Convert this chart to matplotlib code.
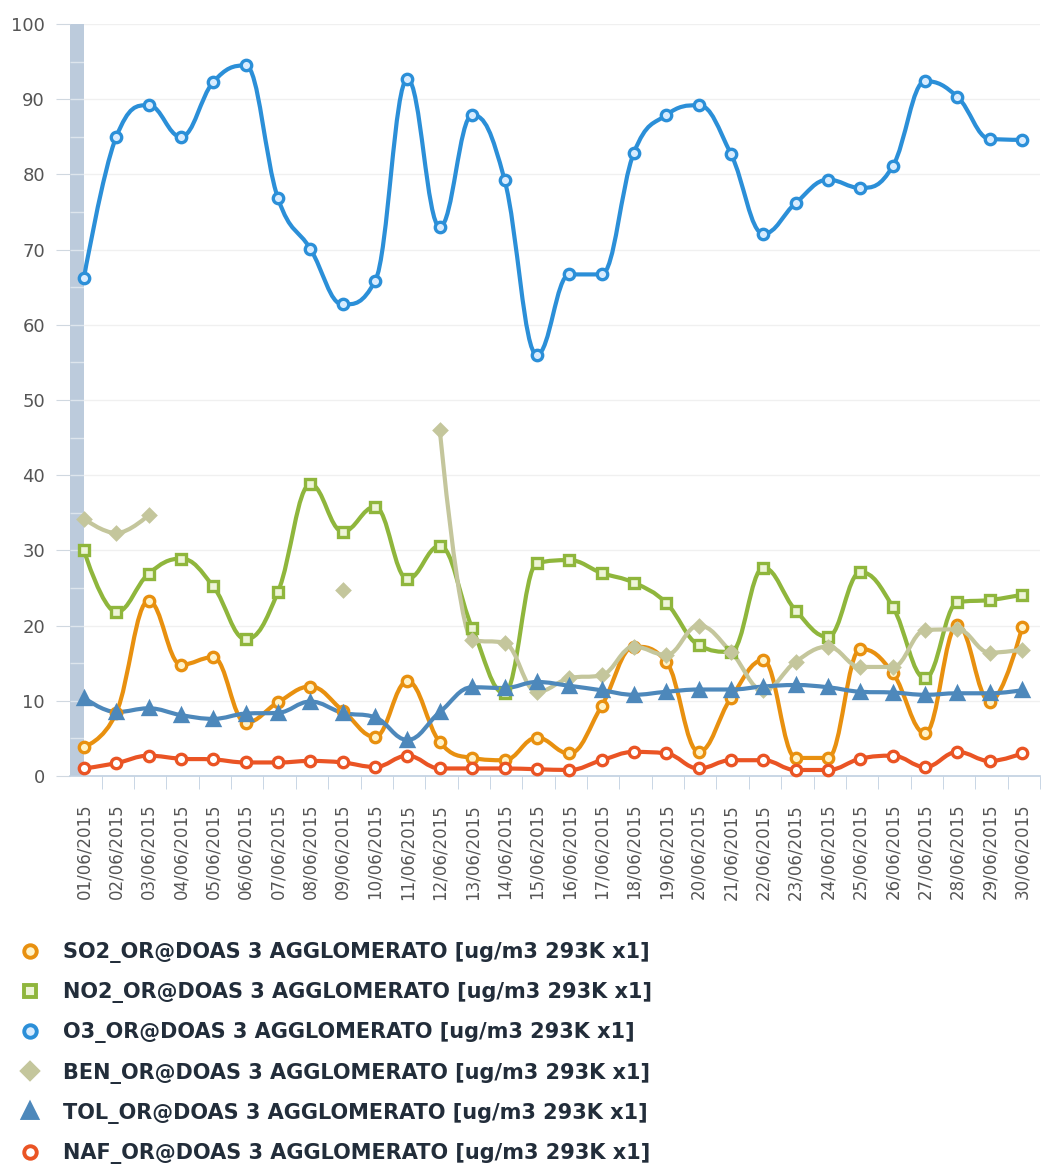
import numpy as np
import matplotlib
matplotlib.use("Agg")
import matplotlib.pyplot as plt
from matplotlib.path import Path
from matplotlib.patches import PathPatch
from matplotlib.lines import Line2D

# Dati (giugno 2015, DOAS 3 Agglomerato)
giorni = ["01/06/2015", "02/06/2015", "03/06/2015", "04/06/2015", "05/06/2015",
          "06/06/2015", "07/06/2015", "08/06/2015", "09/06/2015", "10/06/2015",
          "11/06/2015", "12/06/2015", "13/06/2015", "14/06/2015", "15/06/2015",
          "16/06/2015", "17/06/2015", "18/06/2015", "19/06/2015", "20/06/2015",
          "21/06/2015", "22/06/2015", "23/06/2015", "24/06/2015", "25/06/2015",
          "26/06/2015", "27/06/2015", "28/06/2015", "29/06/2015", "30/06/2015"]

so2 = [3.9, 8.4, 23.3, 14.8, 15.8, 7.1, 9.8, 11.9, 8.7, 5.2, 12.6, 4.5, 2.4, 2.1, 5.1,
       3.0, 9.3, 17.2, 15.2, 3.2, 10.4, 15.4, 2.4, 2.4, 16.9, 13.7, 5.7, 20.1, 9.9, 19.8]
no2 = [30.0, 21.8, 26.9, 28.9, 25.2, 18.2, 24.5, 38.8, 32.5, 35.8, 26.2, 30.6, 19.7, 11.0, 28.3,
       28.7, 27.0, 25.7, 23.0, 17.4, 16.5, 27.7, 22.0, 18.5, 27.1, 22.5, 13.0, 23.1, 23.4, 24.1]
o3 = [66.2, 85.0, 89.2, 85.0, 92.3, 94.5, 76.8, 70.1, 62.7, 65.8, 92.7, 73.0, 87.9, 79.3, 56.0,
      66.7, 66.7, 82.9, 87.9, 89.2, 82.7, 72.1, 76.2, 79.3, 78.2, 81.1, 92.4, 90.3, 84.7, 84.6]
ben = [34.2, 32.3, 34.7, None, None, None, None, None, 24.7, None, None, 46.0, 18.1, 17.7, 11.2,
       13.0, 13.4, 17.2, 16.1, 20.0, 16.5, 11.4, 15.2, 17.2, 14.5, 14.5, 19.4, 19.5, 16.4, 16.8]
tol = [10.4, 8.5, 9.0, 8.1, 7.6, 8.3, 8.4, 9.9, 8.4, 7.8, 4.8, 8.5, 11.8, 11.7, 12.5,
       12.0, 11.4, 10.8, 11.2, 11.5, 11.5, 11.9, 12.1, 11.8, 11.2, 11.1, 10.8, 11.0, 11.0, 11.4]
naf = [1.0, 1.7, 2.7, 2.3, 2.2, 1.8, 1.8, 2.0, 1.8, 1.2, 2.7, 1.0, 1.0, 1.0, 0.9,
       0.8, 2.1, 3.2, 3.0, 1.0, 2.1, 2.1, 0.8, 0.8, 2.3, 2.7, 1.2, 3.2, 2.0, 3.0]

etichetta = "_OR@DOAS 3 AGGLOMERATO [ug/m3 293K x1]"

# nome, valori, colore, marker, riempimento marker, dimensione
serie = [
    ("SO2", so2, "#e8900f", "o", "#fff3c8", 7.5),
    ("NO2", no2, "#8fb63c", "s", "#eef5d8", 7.5),
    ("O3", o3, "#2b8fd8", "o", "#d8ecff", 7.5),
    ("BEN", ben, "#c4c69c", "D", "#c4c69c", 6.5),
    ("TOL", tol, "#4d88bb", "^", "#4d88bb", 8),
    ("NAF", naf, "#ea5424", "o", "#ffffff", 7.5),
]


def spline(xs, ys, smoothing=1.5):
    # curva tipo "spline" di Highcharts: bezier cubiche tra i punti
    verts = [(xs[0], ys[0])]
    codes = [Path.MOVETO]
    prec = (xs[0], ys[0])
    n = len(xs)
    for i in range(1, n):
        x, y = xs[i], ys[i]
        lx, ly, rx, ry = x, y, x, y
        if i < n - 1:
            d = smoothing + 1
            lx = (smoothing * x + xs[i - 1]) / d
            ly = (smoothing * y + ys[i - 1]) / d
            rx = (smoothing * x + xs[i + 1]) / d
            ry = (smoothing * y + ys[i + 1]) / d
            corr = (ry - ly) * (rx - x) / (rx - lx) + y - ry
            ly += corr
            ry += corr
            py, ny = ys[i - 1], ys[i + 1]
            if ly > py and ly > y:
                ly = max(py, y); ry = 2 * y - ly
            elif ly < py and ly < y:
                ly = min(py, y); ry = 2 * y - ly
            if ry > ny and ry > y:
                ry = max(ny, y); ly = 2 * y - ry
            elif ry < ny and ry < y:
                ry = min(ny, y); ly = 2 * y - ry
        verts += [prec, (lx, ly), (x, y)]
        codes += [Path.CURVE4] * 3
        prec = (rx, ry)
    return Path(verts, codes)


fig = plt.figure(figsize=(10.47, 11.64), dpi=100)
ax = fig.add_axes([70 / 1047, 1 - 776 / 1164, 970 / 1047, 752 / 1164])

x = np.arange(len(giorni))
xmin, xmax = -0.43, 29.12
ax.set_xlim(xmin, xmax)
ax.set_ylim(0, 100)

# barra laterale
ax.axvspan(xmin, 0, color="#bccbdc", zorder=0.5, lw=0)
ax.hlines(np.arange(5, 100, 5), xmin, 0, colors="white", lw=1, alpha=0.5, zorder=0.6)

# griglia
for v in range(10, 101, 10):
    ax.axhline(v, color="#f0f0f0", lw=1, zorder=0)

handles = []
for nome, valori, col, mk, fc, ms in serie:
    # segmenti continui (i valori mancanti spezzano la linea)
    seg = []
    for i, v in enumerate(valori + [None]):
        if v is not None:
            seg.append(i)
            continue
        if len(seg) > 1:
            p = spline([float(j) for j in seg], [valori[j] for j in seg])
            ax.add_patch(PathPatch(p, fill=False, ec=col, lw=3, zorder=2,
                                   capstyle="round", joinstyle="round"))
        seg = []
    xv = [i for i, v in enumerate(valori) if v is not None]
    yv = [v for v in valori if v is not None]
    ax.plot(xv, yv, ls="none", marker=mk, ms=ms, mfc=fc, mec=col, mew=2.4,
            zorder=3, clip_on=False)
    handles.append(Line2D([], [], ls="none", marker=mk, ms=ms + 1.5, mfc=fc, mec=col, mew=2.8))

for s in ["top", "right", "left"]:
    ax.spines[s].set_visible(False)
ax.spines["bottom"].set_color("#c0d0e0")
ax.spines["bottom"].set_linewidth(1.2)

ax.set_yticks(range(0, 101, 10))
ax.tick_params(axis="y", length=10, color="#d0d8e0", pad=8, labelsize=13, labelcolor="#555555")
ax.set_xticks(x)
ax.set_xticklabels(giorni, rotation=90, fontsize=12, color="#555555")
ax.tick_params(axis="x", length=0, pad=20)
ax.set_xticks(x + 0.55, minor=True)
ax.tick_params(axis="x", which="minor", length=9, color="#c0d0e0")

fig.legend(handles, [n + etichetta for n, *_ in serie], loc="upper left",
           bbox_to_anchor=(20 / 1047, 1 - 942 / 1164), frameon=False,
           prop={"size": 15, "weight": "bold"}, labelcolor="#222d3a",
           handlelength=1.0, handletextpad=1.05, labelspacing=0.92, borderpad=0,
           borderaxespad=0)

fig.savefig("out.png", dpi=100)
